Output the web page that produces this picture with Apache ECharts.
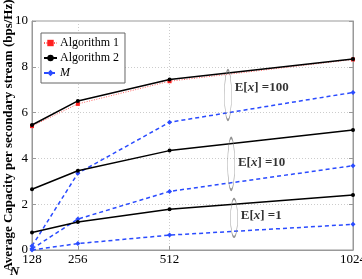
<!DOCTYPE html>
<html><head><meta charset="utf-8">
<script src="https://cdn.jsdelivr.net/npm/echarts@6/dist/echarts.min.js"></script>
<style>html,body{margin:0;padding:0;background:#fff}#c{width:362px;height:279px}</style>
</head><body><div id="c"></div>
<script>
const nValues = [128, 256, 512, 1024];
const xTicks = [128, 256, 512, 1024];
const yTicks = [0, 2, 4, 6, 8, 10];
const alg1_E100 = [5.41, 6.38, 7.37, 8.32];
const alg2_E100 = [5.46, 6.51, 7.45, 8.34];
const alg2_E10 = [2.65, 3.46, 4.34, 5.24];
const alg2_E1 = [0.76, 1.22, 1.78, 2.40];
const m_E100 = [0.17, 3.35, 5.58, 6.88];
const m_E10 = [0.05, 1.35, 2.56, 3.68];
const m_E1 = [0.0, 0.28, 0.65, 1.12];
const groupLabels = ['=100', '=10', '=1'];
const ellipseX = [675, 684, 692];
const ellipseY = [6.77, 3.76, 1.40];

const pair = (ys) => nValues.map((x, i) => [x, ys[i]]);
const serif = '"Liberation Serif","DejaVu Serif",serif';

const alg2Style = {type: 'line', symbol: 'circle', symbolSize: 4, color: '#000',
  lineStyle: {color: '#000', width: 1.5}, itemStyle: {color: '#000'}, z: 4};
const mStyle = {type: 'line', symbol: 'diamond', symbolSize: 5, color: '#2a4bff',
  lineStyle: {color: '#2a4bff', width: 1.5, type: [4, 3]}, itemStyle: {color: '#2a4bff'}, z: 3};

const ellSizes = [[7, 50], [7, 52], [7, 38]];
const ellipseSeries = groupLabels.map((g, i) => ({
  type: 'scatter', silent: true, z: 6,
  data: [[ellipseX[i], ellipseY[i]]],
  symbol: 'circle', symbolSize: ellSizes[i],
  itemStyle: {color: 'rgba(0,0,0,0)', borderColor: '#777', borderWidth: 1},
  label: {show: true, position: 'right', distance: 3, offset: [0, i === 0 ? -7 : (i === 1 ? -1 : -2)],
    formatter: '{b|E[}{i|x}{b|] ' + g + '}',
    rich: {b: {fontFamily: serif, fontWeight: 'bold', fontSize: 13, color: '#000'},
           i: {fontFamily: serif, fontWeight: 'bold', fontStyle: 'italic', fontSize: 13, color: '#000'}}}
}));

const chart = echarts.init(document.getElementById('c'));
chart.setOption({
  animation: false,
  grid: {left: 32, right: 9, top: 21, bottom: 29, show: true, borderColor: '#999', borderWidth: 1,
    outerBoundsMode: 'none', containLabel: false},
  legend: {
    left: 41, top: 33, orient: 'vertical', itemGap: 3, itemWidth: 13, itemHeight: 8,
    padding: [4, 6, 4, 2], backgroundColor: '#fff', borderColor: '#666', borderWidth: 1,
    textStyle: {fontFamily: serif, fontSize: 12, color: '#000', padding: [0, 0, 0, -2]},
    data: [{name: 'Algorithm 1'}, {name: 'Algorithm 2'}, {name: 'M', textStyle: {fontStyle: 'italic'}}]
  },
  xAxis: {
    type: 'value', min: 128, max: 1024,
    axisLine: {show: true, lineStyle: {color: '#999'}},
    axisTick: {inside: true, length: 4, lineStyle: {color: '#999'}, customValues: xTicks},
    axisLabel: {customValues: xTicks, formatter: (v) => String(v), fontFamily: serif, fontSize: 13, color: '#000', margin: 3},
    splitLine: {show: true, lineStyle: {color: '#ccc', type: [1, 2]}}
  },
  yAxis: [{
    type: 'value', min: 0, max: 10, interval: 2,
    name: 'Average Capacity per secondary stream (bps/Hz)', nameLocation: 'middle', nameGap: 17,
    nameMoveOverlap: false,
    nameTextStyle: {fontFamily: serif, fontWeight: 'bold', fontSize: 13, color: '#000'},
    axisLine: {show: true, lineStyle: {color: '#999'}},
    axisTick: {show: true, inside: true, length: 4, lineStyle: {color: '#999'}},
    axisLabel: {fontFamily: serif, fontSize: 13, color: '#000', margin: 4},
    splitLine: {show: true, lineStyle: {color: '#ccc', type: [1, 2]}}
  }, {
    type: 'value', min: 0, max: 10, interval: 2, position: 'right',
    axisLine: {show: true, lineStyle: {color: '#999'}},
    axisTick: {show: true, inside: true, length: 4, lineStyle: {color: '#999'}},
    axisLabel: {show: false}, splitLine: {show: false}
  }],
  graphic: [{type: 'text', left: 10, top: 265,
    style: {text: 'N', font: 'italic bold 13px ' + serif, fill: '#000'}}],
  series: [
    {name: 'Algorithm 1', type: 'line', data: pair(alg1_E100), symbol: 'rect', symbolSize: 4,
      color: '#ff2020', lineStyle: {color: '#ff6060', width: 1, type: [1, 1.5]}, itemStyle: {color: '#ff2020'}, z: 3},
    Object.assign({name: 'Algorithm 2', data: pair(alg2_E100)}, alg2Style),
    Object.assign({name: 'Algorithm 2', data: pair(alg2_E10)}, alg2Style),
    Object.assign({name: 'Algorithm 2', data: pair(alg2_E1)}, alg2Style),
    Object.assign({name: 'M', data: pair(m_E100)}, mStyle),
    Object.assign({name: 'M', data: pair(m_E10)}, mStyle),
    Object.assign({name: 'M', data: pair(m_E1)}, mStyle),
    ...ellipseSeries
  ]
});
</script></body></html>
